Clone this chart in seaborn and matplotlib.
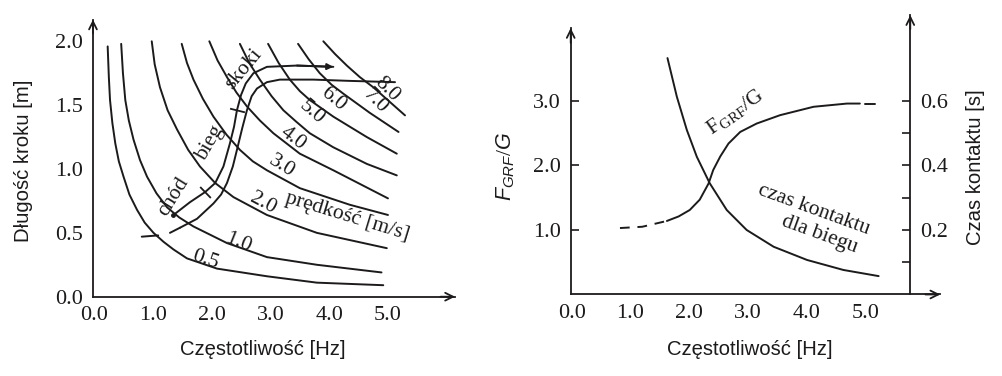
import numpy as np
import pandas as pd
import seaborn as sns
import matplotlib.pyplot as plt

sns.set_style("white")
plt.rcParams["font.family"] = ["Liberation Serif", "DejaVu Serif"]
plt.rcParams["mathtext.fontset"] = "custom"
plt.rcParams["mathtext.rm"] = "Liberation Serif"
plt.rcParams["mathtext.it"] = "Liberation Sans:italic"

ink = "#1c1a1a"
sans = ["Liberation Sans", "DejaVu Sans"]

# --- left panel: iso-speed lines (step length vs step frequency) ---
speed_labels = ["0.5", "1.0", "2.0", "3.0", "4.0", "5.0", "6.0", "7.0", "8.0"]
freq_05 = [0.23, 0.25, 0.27, 0.31, 0.36, 0.42, 0.50, 0.60, 0.73, 0.86, 1.01, 1.18, 1.35, 1.58, 2.09, 2.94, 3.79, 4.92]
len_05 = [1.96, 1.72, 1.54, 1.36, 1.20, 1.06, 0.94, 0.80, 0.68, 0.58, 0.50, 0.43, 0.37, 0.30, 0.22, 0.16, 0.11, 0.09]
freq_10 = [0.46, 0.49, 0.53, 0.59, 0.67, 0.78, 0.90, 1.06, 1.24, 1.45, 1.69, 2.26, 2.94, 3.79, 4.89]
len_10 = [1.98, 1.75, 1.54, 1.38, 1.23, 1.07, 0.94, 0.81, 0.70, 0.62, 0.55, 0.42, 0.31, 0.25, 0.19]
freq_20 = [0.98, 1.03, 1.12, 1.25, 1.41, 1.60, 1.80, 2.06, 2.37, 2.94, 3.79, 4.98]
len_20 = [2.00, 1.82, 1.64, 1.46, 1.31, 1.15, 1.02, 0.89, 0.78, 0.64, 0.50, 0.38]
freq_30 = [1.49, 1.58, 1.69, 1.85, 2.03, 2.25, 2.48, 2.70, 2.94, 3.50, 4.35, 5.00]
len_30 = [1.98, 1.83, 1.70, 1.55, 1.41, 1.27, 1.15, 1.06, 0.99, 0.85, 0.72, 0.64]
freq_40 = [1.96, 2.10, 2.26, 2.42, 2.60, 2.82, 3.05, 3.50, 4.07, 5.00]
len_40 = [2.00, 1.85, 1.72, 1.60, 1.49, 1.38, 1.28, 1.12, 0.99, 0.77]
freq_50 = [2.48, 2.64, 2.82, 3.02, 3.22, 3.44, 3.67, 4.07, 4.64, 5.15]
len_50 = [1.98, 1.83, 1.70, 1.57, 1.46, 1.37, 1.28, 1.17, 1.04, 0.95]
freq_60 = [2.96, 3.14, 3.33, 3.50, 3.67, 4.07, 4.64, 5.15]
len_60 = [1.98, 1.83, 1.70, 1.61, 1.54, 1.41, 1.25, 1.12]
freq_70 = [3.47, 3.65, 3.84, 4.04, 4.24, 4.69, 5.18]
len_70 = [1.98, 1.86, 1.75, 1.66, 1.59, 1.44, 1.29]
freq_80 = [3.90, 4.10, 4.30, 4.52, 4.75, 5.29]
len_80 = [2.00, 1.90, 1.81, 1.72, 1.64, 1.42]

# label anchor points and angles for the speed values
speed_lab_x = [1.89, 2.45, 2.88, 3.19, 3.39, 3.70, 4.07, 4.78, 4.98]
speed_lab_y = [0.29, 0.42, 0.73, 1.02, 1.24, 1.44, 1.55, 1.53, 1.62]
speed_lab_rot = [-18, -22, -28, -32, -37, -41, -40, -45, -45]

# gait band: outer line (with arrow) and inner line
gait_out_f = [1.35, 1.63, 1.89, 2.06, 2.20, 2.31, 2.38, 2.43, 2.50, 2.58, 2.71, 2.94, 3.45, 4.07]
gait_out_l = [0.64, 0.74, 0.82, 0.89, 1.02, 1.20, 1.33, 1.46, 1.58, 1.67, 1.75, 1.80, 1.81, 1.80]
gait_in_dash1_f = [0.81, 1.09]
gait_in_dash1_l = [0.47, 0.48]
gait_in_dash2_f = [1.29, 1.46]
gait_in_dash2_l = [0.50, 0.54]
gait_in_f = [1.46, 1.75, 2.03, 2.16, 2.26, 2.36, 2.43, 2.52, 2.60, 2.68, 2.77, 2.94, 3.16, 3.73, 4.35, 5.12]
gait_in_l = [0.54, 0.61, 0.73, 0.80, 0.89, 1.02, 1.15, 1.32, 1.46, 1.57, 1.63, 1.68, 1.70, 1.70, 1.69, 1.68]
gait_names = ["chód", "bieg", "skoki"]

# --- right panel ---
grf_dash_f = [0.82, 1.20, 1.62]
grf_dash_v = [1.03, 1.05, 1.14]
grf_f = [1.62, 1.82, 2.01, 2.18, 2.33, 2.41, 2.53, 2.67, 2.87, 3.15, 3.55, 4.12, 4.69, 4.91]
grf_v = [1.14, 1.21, 1.31, 1.47, 1.72, 1.93, 2.14, 2.34, 2.52, 2.65, 2.78, 2.91, 2.96, 2.96]
grf_end_f = [5.00, 5.17]
grf_end_v = [2.95, 2.95]
contact_f = [1.63, 1.79, 1.96, 2.13, 2.35, 2.64, 2.98, 3.44, 4.01, 4.63, 5.23]
contact_t = [0.733, 0.613, 0.51, 0.427, 0.345, 0.262, 0.20, 0.148, 0.107, 0.076, 0.057]

x_ticks = [0, 1, 2, 3, 4, 5]
x_ticklabels = ["0.0", "1.0", "2.0", "3.0", "4.0", "5.0"]

fig = plt.figure(figsize=(10.03, 3.76), dpi=100)
ax1 = fig.add_axes([0.0927, 0.2109, 0.3609, 0.737])
ax2 = fig.add_axes([0.569, 0.2168, 0.3684, 0.7428])

lw = 1.4
fs_tick = 16
fs_note = 15.5
fs_lab = 14.6


def line(ax, x, y, **kw):
    sns.lineplot(x=x, y=y, ax=ax, sort=False, estimator=None, color=ink, lw=lw, **kw)


def style_axes(ax):
    for s in ["top", "right"]:
        ax.spines[s].set_visible(False)
    for s in ["left", "bottom"]:
        ax.spines[s].set_color(ink)
        ax.spines[s].set_linewidth(1.3)
    ax.tick_params(direction="in", length=6, width=1.2, colors=ink, labelsize=fs_tick, pad=7)


def arrow(ax, xy, xytext, coords="axes fraction"):
    ax.annotate("", xy=xy, xytext=xytext, xycoords=coords, textcoords=coords,
                annotation_clip=False,
                arrowprops=dict(arrowstyle="->", color=ink, lw=1.3, shrinkA=0, shrinkB=0,
                                mutation_scale=14))


# left panel
iso = [(freq_05, len_05), (freq_10, len_10), (freq_20, len_20), (freq_30, len_30),
       (freq_40, len_40), (freq_50, len_50), (freq_60, len_60), (freq_70, len_70),
       (freq_80, len_80)]
for f, l in iso:
    line(ax1, f, l)
for lab, x, y, r in zip(speed_labels, speed_lab_x, speed_lab_y, speed_lab_rot):
    ax1.text(x, y, lab, rotation=r, rotation_mode="anchor", ha="center", va="center",
             fontsize=fs_note, color=ink)
ax1.text(4.30, 0.63, "prędkość [m/s]", rotation=-17, rotation_mode="anchor",
         ha="center", va="center", fontsize=fs_note, color=ink)

line(ax1, gait_out_f, gait_out_l)
line(ax1, gait_in_f, gait_in_l)
line(ax1, gait_in_dash1_f, gait_in_dash1_l)
line(ax1, gait_in_dash2_f, gait_in_dash2_l)
ax1.annotate("", xy=(gait_out_f[-1], gait_out_l[-1]), xytext=(gait_out_f[-2], gait_out_l[-2]),
             arrowprops=dict(arrowstyle="-|>", color=ink, lw=lw, shrinkA=0, shrinkB=0,
                             mutation_scale=9))
# tick marks separating gait phases
ax1.plot([gait_out_f[2]], [gait_out_l[2]], marker=(2, 0, 44), ms=11, mew=1.3, color=ink)
ax1.plot([gait_out_f[7]], [gait_out_l[7]], marker=(2, 0, 76), ms=11, mew=1.3, color=ink)
ax1.plot([gait_out_f[0]], [gait_out_l[0]], marker="o", ms=2.5, color=ink)
for name, x, y, r in zip(gait_names, [1.35, 1.97, 2.54], [0.78, 1.20, 1.78], [58, 60, 50]):
    ax1.text(x, y, name, rotation=r, rotation_mode="anchor", ha="center", va="center",
             fontsize=fs_note, color=ink)

ax1.set_xlim(-0.02, 6.14)
ax1.set_ylim(0, 2.17)
ax1.set_xticks(x_ticks)
ax1.set_xticklabels(x_ticklabels)
ax1.set_yticks([0, 0.5, 1.0, 1.5, 2.0])
ax1.set_yticklabels(["0.0", "0.5", "1.0", "1.5", "2.0"])
style_axes(ax1)
ax1.set_xlabel("Częstotliwość [Hz]", family=sans, fontsize=fs_lab, color=ink)
ax1.set_ylabel("Długość kroku [m]", family=sans, fontsize=fs_lab, color=ink)
ax1.xaxis.set_label_coords(0.47, -0.155)
ax1.yaxis.set_label_coords(-0.166, 0.49)
arrow(ax1, (1, 0), (0.96, 0))
arrow(ax1, (0, 1), (0, 0.95))

# right panel
line(ax2, grf_dash_f, grf_dash_v, linestyle=(0, (5, 4)))
line(ax2, grf_f, grf_v)
line(ax2, grf_end_f, grf_end_v)
ax2.text(2.78, 2.82, r"F$_{\mathrm{GRF}}$/G", rotation=35, rotation_mode="anchor",
         ha="center", va="center", fontsize=fs_note, color=ink)
ax2.text(4.12, 1.31, "czas kontaktu", rotation=-20, rotation_mode="anchor",
         ha="center", va="center", fontsize=fs_note, color=ink)
ax2.text(4.23, 0.92, "dla biegu", rotation=-20, rotation_mode="anchor",
         ha="center", va="center", fontsize=fs_note, color=ink)

ax2.set_xlim(-0.02, 6.28)
ax2.set_ylim(0, 4.33)
ax2.set_xticks(x_ticks)
ax2.set_xticklabels(x_ticklabels)
ax2.set_yticks([1, 2, 3])
ax2.set_yticklabels(["1.0", "2.0", "3.0"])
style_axes(ax2)
ax2.spines["left"].set_bounds(0, 4.13)
ax2.set_xlabel("Częstotliwość [Hz]", family=sans, fontsize=fs_lab, color=ink)
ax2.set_ylabel(r"$F_{GRF}/G$", fontsize=15.5, color=ink)
ax2.xaxis.set_label_coords(0.486, -0.163)
ax2.yaxis.set_label_coords(-0.146, 0.458)
arrow(ax2, (1, 0), (0.96, 0))
arrow(ax2, (0, 4.13), (0, 3.9), coords=("axes fraction", "data"))

ax3 = ax2.twinx()
line(ax3, contact_f, contact_t)
ax3.set_ylim(0, 0.866)
for s in ["top", "left", "bottom"]:
    ax3.spines[s].set_visible(False)
ax3.spines["right"].set_position(("axes", 0.919))
ax3.spines["right"].set_color(ink)
ax3.spines["right"].set_linewidth(1.3)
ax3.set_yticks([0.2, 0.4, 0.6])
ax3.set_yticklabels(["0.2", "0.4", "0.6"])
ax3.set_yticks([0.1, 0.3, 0.5], minor=True)
ax3.tick_params(which="both", direction="in", length=6, width=1.2, colors=ink,
                labelsize=fs_tick, pad=7)
ax3.set_ylabel("Czas kontaktu [s]", family=sans, fontsize=fs_lab, color=ink)
ax3.yaxis.set_label_coords(1.069, 0.456)
arrow(ax3, (0.919, 1), (0.919, 0.95))

fig.savefig("out.png", dpi=100)
